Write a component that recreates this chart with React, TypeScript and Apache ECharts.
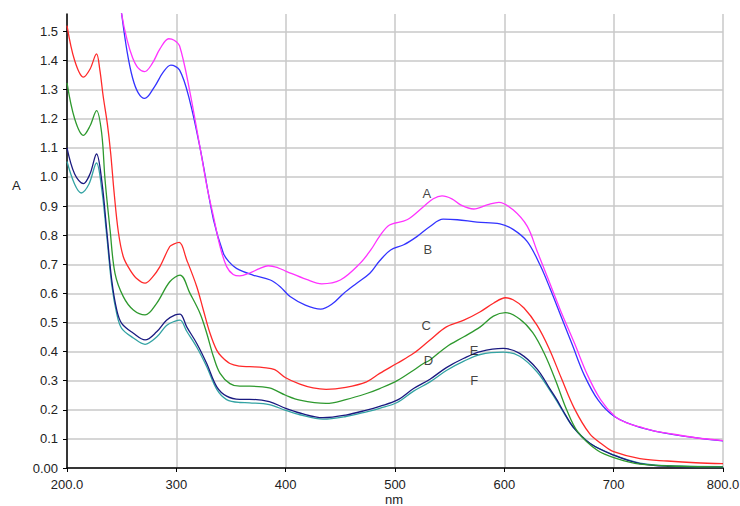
import { useEffect, useRef } from 'react';
import * as echarts from 'echarts';

// Wavelength (nm) / absorbance pairs, one pair of arrays per curve
const aNm = [245, 250, 255, 260, 265, 271, 278, 285, 293, 298, 303, 312, 322, 328, 334, 340, 346, 352, 358, 367, 376, 384, 393, 401, 419, 433, 450, 468, 478, 486, 495, 511, 526, 535, 543, 552, 560, 572, 585, 595, 608, 621, 630, 640, 651, 664, 676, 688, 701, 712, 724, 740, 755, 775, 800];
const aAbs = [1.7, 1.56, 1.47, 1.41, 1.375, 1.362, 1.39, 1.44, 1.475, 1.47, 1.45, 1.3, 1.094, 0.967, 0.864, 0.761, 0.692, 0.665, 0.66, 0.67, 0.685, 0.695, 0.688, 0.675, 0.648, 0.633, 0.646, 0.703, 0.75, 0.797, 0.835, 0.853, 0.898, 0.925, 0.935, 0.925, 0.904, 0.89, 0.905, 0.913, 0.887, 0.83, 0.745, 0.65, 0.545, 0.43, 0.32, 0.235, 0.178, 0.155, 0.141, 0.125, 0.116, 0.104, 0.094];

const bNm = [245, 250, 255, 260, 265, 271, 280, 288, 295, 303, 312, 322, 334, 343, 348, 355, 370, 386, 395, 404, 418, 432, 443, 453, 465, 477, 486, 496, 508, 520, 532, 544, 557, 575, 596, 608, 621, 633, 642, 652, 662, 673, 686, 701, 724, 755, 800];
const bAbs = [1.72, 1.56, 1.43, 1.34, 1.29, 1.27, 1.31, 1.36, 1.384, 1.367, 1.266, 1.094, 0.853, 0.738, 0.709, 0.686, 0.663, 0.646, 0.623, 0.589, 0.56, 0.546, 0.565, 0.6, 0.635, 0.669, 0.712, 0.749, 0.767, 0.795, 0.83, 0.855, 0.853, 0.845, 0.839, 0.82, 0.778, 0.695, 0.615, 0.52, 0.425, 0.32, 0.232, 0.176, 0.14, 0.115, 0.093];

const cNm = [200, 207, 215, 221, 227, 230, 233, 237, 240, 243, 247, 251.5, 257.6, 264, 271.4, 278, 285, 294, 298, 302.7, 309.5, 318.7, 324.7, 330.8, 336.9, 341.5, 349, 358, 367, 380, 390, 400, 413, 425, 437, 455, 474, 486, 502, 517, 532, 547, 563, 578, 590, 601, 608, 618, 630, 641, 652, 664, 678, 690, 700, 724, 749, 775, 800];
const cAbs = [1.52, 1.4, 1.343, 1.37, 1.423, 1.369, 1.28, 1.18, 1.08, 0.95, 0.81, 0.726, 0.681, 0.65, 0.635, 0.655, 0.692, 0.761, 0.77, 0.775, 0.715, 0.623, 0.543, 0.463, 0.405, 0.382, 0.359, 0.35, 0.348, 0.345, 0.338, 0.31, 0.288, 0.275, 0.27, 0.277, 0.296, 0.325, 0.36, 0.394, 0.44, 0.485, 0.508, 0.537, 0.566, 0.585, 0.578, 0.55, 0.49, 0.41, 0.31, 0.205, 0.118, 0.08, 0.056, 0.032, 0.024, 0.018, 0.015];

const dNm = [200, 207, 215, 221, 227, 231.7, 234.8, 239.4, 243.9, 251.5, 260.7, 271.4, 282, 294, 303.4, 312.5, 321.7, 327.8, 334, 340, 349, 358, 367, 385, 400, 413, 437, 455, 474, 486, 502, 517, 526, 532, 547, 563, 578, 590, 601, 614, 626, 637, 647, 657, 667, 685, 703, 724, 760, 800];
const dAbs = [1.323, 1.2, 1.143, 1.175, 1.228, 1.151, 0.99, 0.818, 0.669, 0.589, 0.543, 0.526, 0.566, 0.64, 0.663, 0.6, 0.531, 0.463, 0.382, 0.325, 0.29, 0.281, 0.281, 0.275, 0.25, 0.233, 0.222, 0.235, 0.256, 0.273, 0.3, 0.336, 0.359, 0.371, 0.416, 0.451, 0.485, 0.522, 0.534, 0.512, 0.465, 0.39, 0.3, 0.2, 0.125, 0.061, 0.032, 0.013, 0.006, 0.004];

const eNm = [200, 207, 215, 221, 227, 231.7, 236.3, 240.9, 245.5, 250, 260.7, 271.4, 282, 291, 299, 303.4, 309.5, 318.7, 327.8, 337, 346, 358, 367, 385, 400, 413, 434, 455, 474, 486, 502, 517, 532, 547, 563, 578, 599, 614, 630, 642, 648, 654, 663, 678.5, 700, 724, 749, 800];
const eAbs = [1.1, 1.01, 0.977, 1.01, 1.079, 0.99, 0.818, 0.646, 0.543, 0.497, 0.463, 0.44, 0.468, 0.508, 0.526, 0.529, 0.485, 0.428, 0.359, 0.279, 0.247, 0.236, 0.236, 0.228, 0.205, 0.189, 0.173, 0.182, 0.199, 0.212, 0.233, 0.273, 0.305, 0.345, 0.377, 0.4, 0.411, 0.394, 0.34, 0.27, 0.235, 0.195, 0.141, 0.084, 0.044, 0.015, 0.006, 0.003];

const fNm = [200, 207, 213, 220, 227, 231.7, 236.3, 240.9, 245.5, 250, 260.7, 271.4, 282, 291, 299, 303.4, 309.5, 318.7, 327.8, 337, 346, 358, 367, 385, 400, 413, 434, 455, 474, 486, 502, 517, 532, 547, 563, 578, 599, 614, 630, 642, 648, 654, 663, 678.5, 700, 724, 749, 800];
const fAbs = [1.053, 0.975, 0.945, 0.975, 1.048, 0.96, 0.8, 0.63, 0.53, 0.48, 0.447, 0.425, 0.45, 0.49, 0.505, 0.508, 0.47, 0.415, 0.348, 0.27, 0.235, 0.225, 0.224, 0.218, 0.198, 0.183, 0.168, 0.177, 0.193, 0.205, 0.225, 0.264, 0.296, 0.335, 0.367, 0.39, 0.398, 0.384, 0.33, 0.265, 0.23, 0.192, 0.14, 0.084, 0.045, 0.017, 0.008, 0.005];

const curveNames = ['A', 'B', 'C', 'D', 'E', 'F'];
const curveColors = ['#ff33ff', '#3333ff', '#ff2a2a', '#2e992e', '#1a1a80', '#33a3a3'];
const curveZ = [8, 7, 6, 5, 4, 3];

// Curve letter labels placed in data coordinates
const labelNm = [529, 530, 528.5, 530.6, 572.4, 572.4];
const labelAbs = [0.942, 0.752, 0.488, 0.368, 0.405, 0.3];

const xEndLabels = [200, 800];
const yMax = 1.56;
const yStep = 0.1;

const zip = (xs: number[], ys: number[]) => xs.map((x, i) => [x, ys[i]]);

const FONT = '"Liberation Sans", Arial, sans-serif';
const GRID = '#c8c8c8';

export default function App() {
  const ref = useRef<HTMLDivElement>(null);
  useEffect(() => {
    const chart = echarts.init(ref.current!, null, { renderer: 'svg' });
    const curves = [
      zip(aNm, aAbs),
      zip(bNm, bAbs),
      zip(cNm, cAbs),
      zip(dNm, dAbs),
      zip(eNm, eAbs),
      zip(fNm, fAbs),
    ];
    // one split line per tick (0 .. 1.5) plus the top edge, which stays invisible
    const nTicks = Math.floor(yMax / yStep + 1e-9) + 1;
    const ySplitColors = [...Array(nTicks).fill(GRID), 'rgba(0,0,0,0)'];
    chart.setOption({
      animation: false,
      backgroundColor: '#ffffff',
      grid: { left: 67, right: 17, top: 14, bottom: 38, outerBoundsMode: 'none', containLabel: false },
      xAxis: {
        type: 'value',
        min: 200,
        max: 800,
        interval: 100,
        axisLine: { show: true, lineStyle: { color: '#000', width: 1.5 } },
        axisTick: { show: true, length: 4, lineStyle: { color: '#000' } },
        axisLabel: {
          color: '#222',
          fontSize: 13,
          lineHeight: 13,
          fontFamily: FONT,
          margin: 10,
          formatter: (v: number) => (xEndLabels.includes(v) ? v.toFixed(1) : String(v)),
        },
        splitLine: { show: true, lineStyle: { color: GRID, width: 1.5 } },
      },
      yAxis: {
        type: 'value',
        min: 0,
        max: yMax,
        interval: yStep,
        axisLine: { show: true, lineStyle: { color: '#000', width: 1.5 } },
        axisTick: { show: true, length: 4, lineStyle: { color: '#000' } },
        axisLabel: {
          color: '#222',
          fontSize: 13,
          fontFamily: FONT,
          margin: 9,
          showMaxLabel: false,
          formatter: (v: number) => (v === 0 ? '0.00' : v.toFixed(1)),
        },
        splitLine: { show: true, lineStyle: { color: ySplitColors, width: 1.5 } },
      },
      graphic: [
        {
          type: 'text',
          left: 12,
          top: 179,
          style: { text: 'A', fill: '#222', fontSize: 13, fontFamily: FONT },
        },
        {
          type: 'text',
          x: 394,
          y: 494,
          style: {
            text: 'nm',
            fill: '#222',
            fontSize: 13,
            lineHeight: 11,
            fontFamily: FONT,
            textAlign: 'center',
            textVerticalAlign: 'top',
          },
        },
      ],
      series: [
        ...curves.map((d, i) => ({
          type: 'line',
          name: curveNames[i],
          data: d,
          showSymbol: false,
          smooth: 0.35,
          clip: true,
          lineStyle: { color: curveColors[i], width: 1.3 },
          z: curveZ[i],
        })),
        {
          type: 'scatter',
          symbolSize: 0,
          data: labelNm.map((x, i) => [x, labelAbs[i], curveNames[i]]),
          label: {
            show: true,
            position: 'inside',
            color: '#111',
            fontSize: 13,
            fontFamily: FONT,
            formatter: (p: any) => p.value[2],
          },
          z: 10,
        },
      ],
    });
    return () => chart.dispose();
  }, []);
  return (
    <div
      ref={ref}
      style={{ position: 'absolute', left: 0, top: 0, width: 740, height: 506, background: '#fff' }}
    />
  );
}
